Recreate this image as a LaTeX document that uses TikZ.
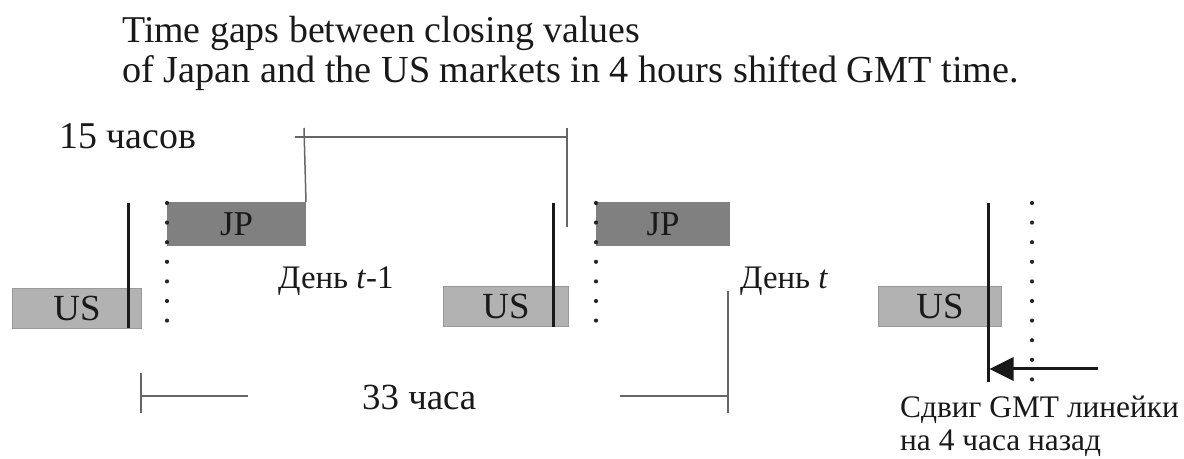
\documentclass[tikz,border=0pt]{standalone}
\usepackage{fontspec}
\setmainfont{Liberation Serif}
\usetikzlibrary{arrows.meta}
\begin{document}
\begin{tikzpicture}[x=1bp,y=-1bp,
  txt/.style={inner sep=0pt, anchor=base west, text=black!90},
  usbox/.style={draw=black!40, fill=black!30, line width=1bp, inner sep=0pt,
    minimum height=40bp, font=\fontsize{37}{40}\selectfont, text=black!90},
  jpbox/.style={draw=black!50, fill=black!50, line width=1bp, inner sep=0pt,
    minimum height=43bp, font=\fontsize{35}{40}\selectfont, text=black!90},
  closeline/.style={line width=3bp, black!90},
  dotmark/.style={fill=black!85},
  span/.style={line width=1.5bp, black!60},
  shiftarrow/.style={line width=3bp, black!90, -{Triangle[length=24bp,width=23bp]}}
]
\useasboundingbox (0,0) rectangle (1184,459);

% heading
\node[txt, font=\fontsize{38}{40}\selectfont] (title1) at (122,43) {Time gaps between closing values};
\node[txt, font=\fontsize{38.4}{40}\selectfont] (title2) at (122,83) {of Japan and the US markets in 4 hours shifted GMT time.};

% market sessions
\node[usbox, minimum width=129bp, anchor=north west] (us1) at (12,288) {US};
\node[usbox, minimum width=125bp, anchor=north west] (us2) at (443,286) {US};
\node[usbox, minimum width=123bp, anchor=north west] (us3) at (878,286) {US};
\node[jpbox, minimum width=138bp, anchor=north west] (jp1) at (167,202) {JP};
\node[jpbox, minimum width=133bp, anchor=north west] (jp2) at (596,202) {JP};

% closing moments (solid)
\coordinate (c1t) at (128,203); \coordinate (c1b) at (128,328);
\coordinate (c2t) at (553,203); \coordinate (c2b) at (553,327);
\coordinate (c3t) at (988,203); \coordinate (c3b) at (988,382);
\draw[closeline] (c1t) -- (c1b);
\draw[closeline] (c2t) -- (c2b);
\draw[closeline] (c3t) -- (c3b);

% day boundaries (dotted)
\foreach \k in {0,...,6} {
  \fill[dotmark] (167,203+19.6*\k) circle (2.1bp);
  \fill[dotmark] (596,203+19.6*\k) circle (2.1bp);
}
\foreach \k in {0,...,9} {
  \fill[dotmark] (1032,203+19.6*\k) circle (2.1bp);
}

% 15 hours span
\node[txt, font=\fontsize{38}{40}\selectfont] (h15) at (59,149) {15 часов};
\coordinate (a1) at (304,128);
\coordinate (a2) at (295,137);
\coordinate (a3) at (567,137);
\coordinate (a4) at (567,128);
\coordinate (a5) at (567,227);
\draw[span] (a1) -- (jp1.north east);
\draw[span] (a2) -- (a3);
\draw[span] (a4) -- (a5);

% day labels
\node[txt, font=\fontsize{33}{40}\selectfont] (day1) at (278,289) {День \textit{t}-1};
\node[txt, font=\fontsize{33}{40}\selectfont] (day2) at (740,289) {День \textit{t}};

% 33 hours span
\coordinate (b1) at (141,373); \coordinate (b2) at (141,413);
\coordinate (b3) at (141,396); \coordinate (b4) at (248,396);
\coordinate (b5) at (620,396); \coordinate (b6) at (728,396);
\coordinate (b7) at (728,291); \coordinate (b8) at (728,413);
\node[txt, font=\fontsize{37}{40}\selectfont] (h33) at (362,410) {33 часа};
\draw[span] (b1) -- (b2);
\draw[span] (b3) -- (b4);
\draw[span] (b5) -- (b6);
\draw[span] (b7) -- (b8);

% shift of the GMT ruler
\coordinate (s0) at (1098,369);
\coordinate (s1) at (989.5,369);
\draw[shiftarrow] (s0) -- (s1);
\node[txt, font=\fontsize{31.5}{38}\selectfont] (shift1) at (900,418) {Сдвиг GMT линейки};
\node[txt, font=\fontsize{31.5}{38}\selectfont] (shift2) at (900,451) {на 4 часа назад};
\end{tikzpicture}
\end{document}
